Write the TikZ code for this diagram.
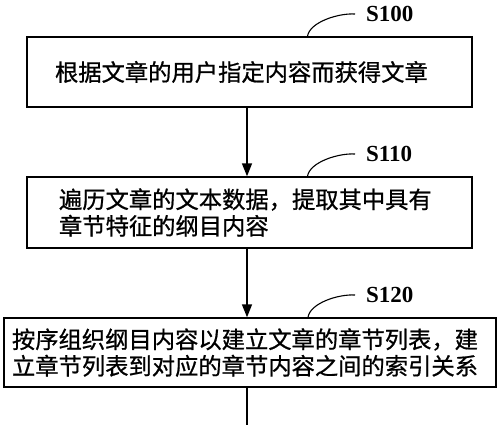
\documentclass[tikz,border=0pt]{standalone}
\usepackage{fontspec}
\setmainfont{Liberation Serif}
\newfontfamily\cjk[FakeBold=0.8]{Noto Sans CJK SC}
\usetikzlibrary{arrows.meta}
\tikzset{
  stepbox/.style={draw, line width=1.4pt, rectangle, inner xsep=0pt, inner ysep=0pt,
    align=left, font=\cjk\fontsize{23.3}{26.5}\selectfont, anchor=center},
  steplabel/.style={inner sep=0pt, anchor=west, font=\bfseries\fontsize{23}{23}\selectfont},
  flow/.style={line width=1.4pt, -{Triangle[length=13pt,width=10pt]}},
  flowend/.style={line width=1.4pt},
  tagline/.style={line width=1.1pt}
}
\begin{document}
\begin{tikzpicture}[x=1pt,y=-1pt]
\useasboundingbox (0,0) rectangle (500,425);
\fill[white] (0,0) rectangle (500,425);
\node[stepbox, minimum width=445pt, minimum height=70pt, text width=389pt] (b1) at (249.5,72) {根据文章的用户指定内容而获得文章};
\node[stepbox, minimum width=445pt, minimum height=71pt, text width=381pt] (b2) at (249.5,212.5) {遍历文章的文本数据，提取其中具有\\章节特征的纲目内容};
\node[stepbox, minimum width=492pt, minimum height=69pt, text width=476pt] (b3) at (250,352.5) {按序组织纲目内容以建立文章的章节列表，建\\立章节列表到对应的章节内容之间的索引关系};
\node[steplabel] (s100) at (366,14) {S100};
\node[steplabel] (s110) at (366,154) {S110};
\node[steplabel] (s120) at (366,295) {S120};
\coordinate (bend) at (247,425);
\draw[flow] (b1.south -| 247,0) -- (b2.north -| 247,0);
\draw[flow] (b2.south -| 247,0) -- (b3.north -| 247,0);
\draw[flowend] (b3.south -| 247,0) -- (bend);
\draw[tagline] ([xshift=58pt]b1.north) .. controls ([xshift=60pt,yshift=14pt]b1.north) and ([xshift=-28pt,yshift=1pt]s100.west) .. ([xshift=-11pt]s100.west);
\draw[tagline] ([xshift=58pt]b2.north) .. controls ([xshift=60pt,yshift=14pt]b2.north) and ([xshift=-28pt,yshift=1pt]s110.west) .. ([xshift=-11pt]s110.west);
\draw[tagline] ([xshift=58pt]b3.north) .. controls ([xshift=60pt,yshift=14pt]b3.north) and ([xshift=-28pt,yshift=1pt]s120.west) .. ([xshift=-11pt]s120.west);
\end{tikzpicture}
\end{document}
